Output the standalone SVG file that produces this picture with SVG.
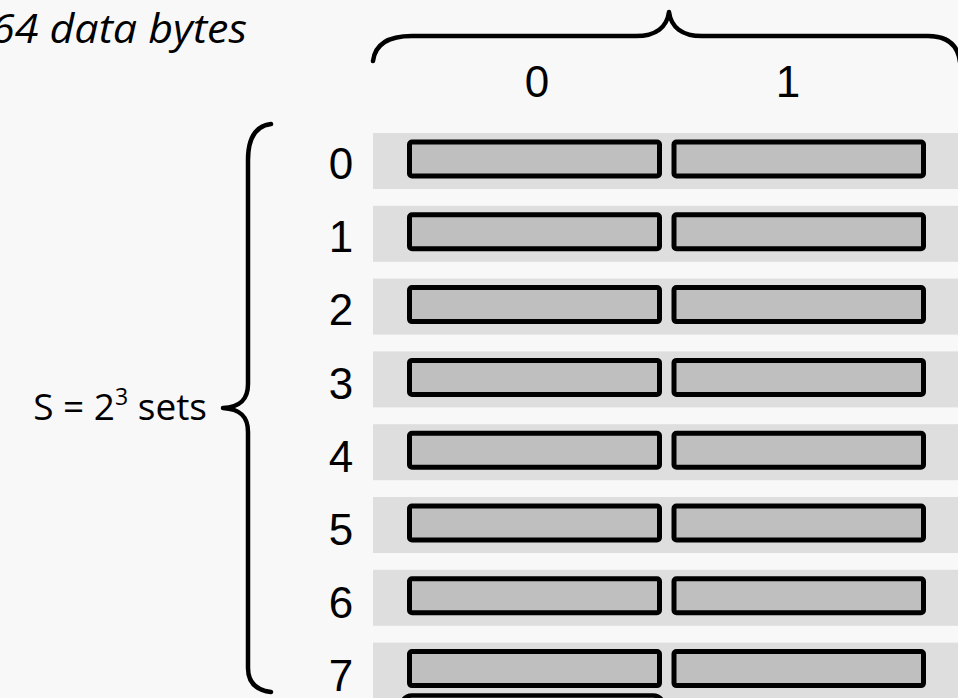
<svg xmlns="http://www.w3.org/2000/svg" width="958" height="698" viewBox="0 0 958 698">
  <style>
    .band { fill: #dedede; }
    .cell { fill: #bfbfbf; stroke: #000; stroke-width: 5; }
    .brace { fill: none; stroke: #000; stroke-width: 4.5; stroke-linecap: round; stroke-linejoin: round; }
    .num { font-family: "Liberation Sans", Arial, sans-serif; font-size: 44px; fill: #000; text-anchor: middle; }
    .cal { font-family: "Open Sans", "Noto Sans", sans-serif; fill: #000; }
  </style>
  <defs>
    <g id="row">
      <rect class="band" x="373" y="0" width="590" height="56"/>
      <rect class="cell" x="409.5" y="9" width="250" height="34" rx="2.5"/>
      <rect class="cell" x="674" y="9" width="249.5" height="34" rx="2.5"/>
    </g>
  </defs>
  <rect x="0" y="0" width="958" height="698" fill="#f8f8f8"/>

  <text class="cal" x="-9" y="43" font-size="40" font-style="italic" textLength="256" lengthAdjust="spacingAndGlyphs">64 data bytes</text>

  <text class="num" x="537" y="97">0</text>
  <text class="num" x="788" y="97">1</text>

  <text class="cal" x="207" y="420" font-size="37" text-anchor="end">S = 2<tspan font-size="23" dy="-15">3</tspan><tspan dy="15"> sets</tspan></text>

  <g id="set0"><use href="#row" y="133"/><text class="num" x="341" y="179">0</text></g>
  <g id="set1"><use href="#row" y="205.8"/><text class="num" x="341" y="252.2">1</text></g>
  <g id="set2"><use href="#row" y="278.6"/><text class="num" x="341" y="325.4">2</text></g>
  <g id="set3"><use href="#row" y="351.4"/><text class="num" x="341" y="398.6">3</text></g>
  <g id="set4"><use href="#row" y="424.2"/><text class="num" x="341" y="471.8">4</text></g>
  <g id="set5"><use href="#row" y="497"/><text class="num" x="341" y="545">5</text></g>
  <g id="set6"><use href="#row" y="569.8"/><text class="num" x="341" y="618.2">6</text></g>
  <g id="set7"><use href="#row" y="642.6"/><text class="num" x="341" y="691">7</text></g>

  <g id="connectors">
    <path class="brace" d="M373,61 C375,45 388,36 412,36 L636,36 C656,36 667,27 669,12 C671,27 682,36 702,36 L928,36 C948,36 958,46 960,62"/>
    <path class="brace" d="M271,124 C255,126 248,138 248,160 L248,384 C248,400 240,407 223,408 C240,409 248,416 248,432 L248,668 C248,682 255,690 271,692"/>
    <path class="brace" stroke-width="4" d="M402,702 Q405,695.5 412,695.5 L653,695.5 Q660,695.5 663,702"/>
  </g>
</svg>
